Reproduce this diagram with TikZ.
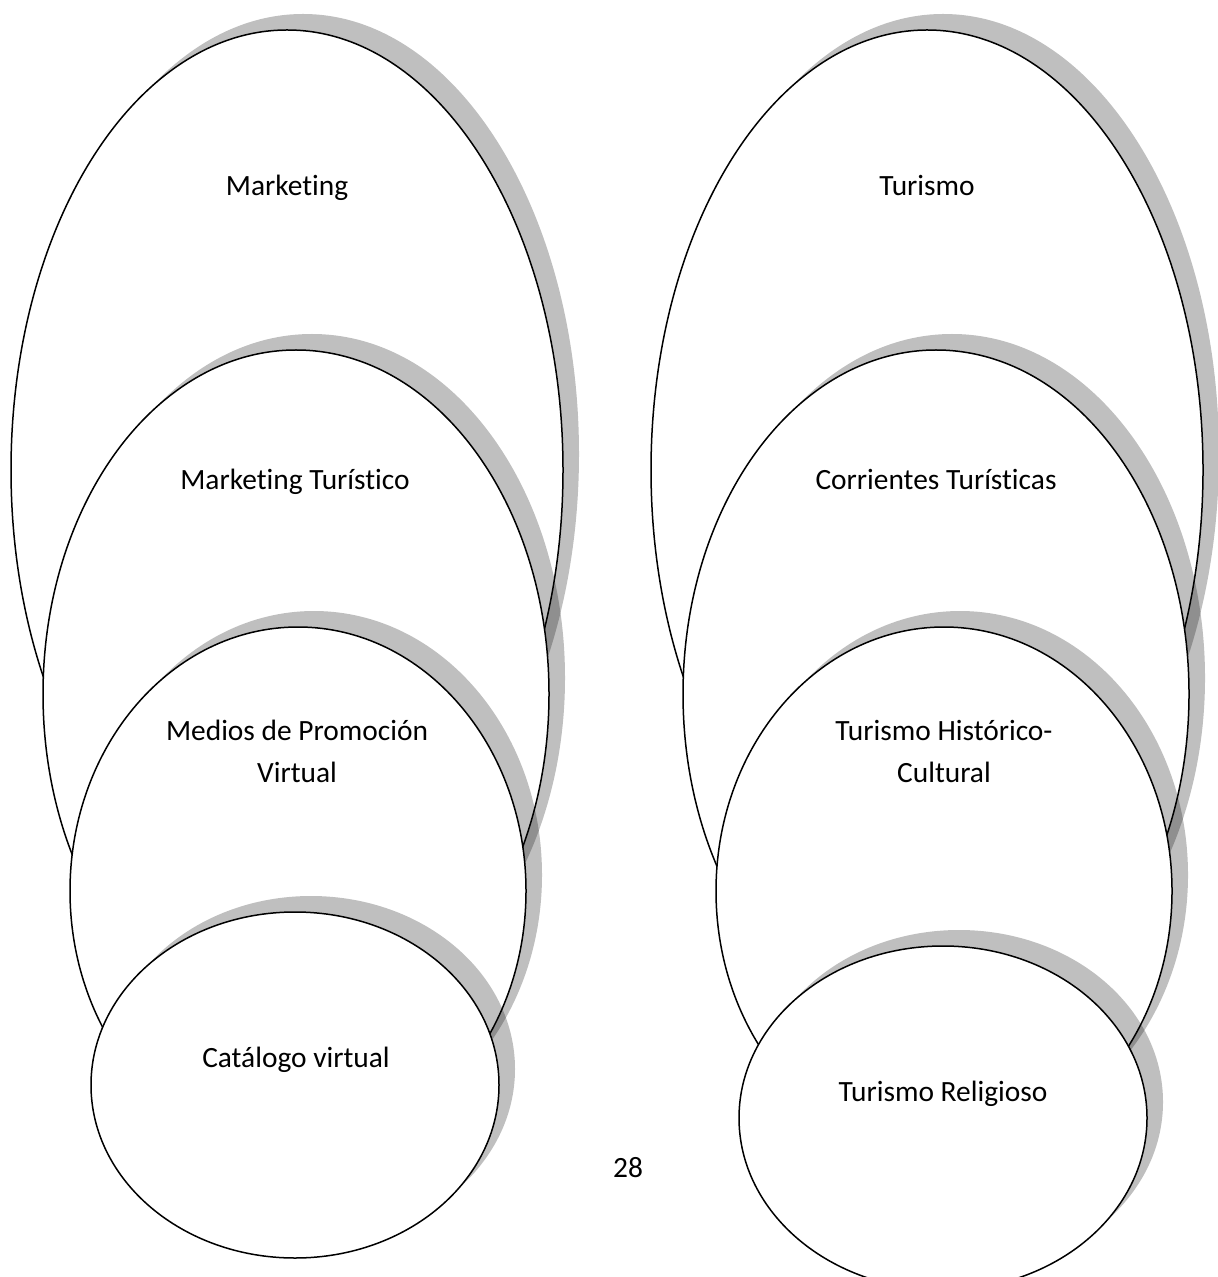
\documentclass[tikz,border=0pt]{standalone}
\usepackage{fontspec}
\setmainfont{Carlito}[Ligatures=NoCommon]
\usetikzlibrary{shapes.geometric}
\newcommand{\bubbleshape}[5]{%
  \fill[shadowband] (#2+16,#3-16) ellipse [x radius=#4, y radius=#5];
  \node[bubble, minimum width=#4pt, minimum height=#5pt] (#1) at (#2,#3) {};
}
\begin{document}
\begin{tikzpicture}[x=0.5pt,y=-0.5pt,
  shadowband/.style={fill=black, fill opacity=0.25},
  bubble/.style={ellipse, draw=black, line width=0.75pt, fill=white, inner sep=0pt},
  lbl/.style={anchor=base, font=\fontsize{14.7}{21}\selectfont, inner sep=0pt, align=center}]
\useasboundingbox (0,0) rectangle (1218,1277);
% left column
\bubbleshape{e1}{287}{470}{276}{440}
\node[lbl] (t1) at (287,196) {Marketing};
\bubbleshape{e2}{296}{694}{253}{344}
\node[lbl] (t2) at (295,489) {Marketing Turístico};
\bubbleshape{e3}{298}{891}{228}{264}
\node[lbl] (t3) at (297,782) {Medios de Promoción\\Virtual};
\bubbleshape{e4}{295}{1085}{204}{173}
\node[lbl] (t4) at (296,1067) {Catálogo virtual};
% right column
\bubbleshape{f1}{927}{470}{276}{440}
\node[lbl] (s1) at (927,196) {Turismo};
\bubbleshape{f2}{936}{694}{253}{344}
\node[lbl] (s2) at (936,489) {Corrientes Turísticas};
\bubbleshape{f3}{944}{891}{228}{264}
\node[lbl] (s3) at (944,782) {Turismo Histórico-\\Cultural};
\bubbleshape{f4}{943}{1118}{204}{172}
\node[lbl] (s4) at (943,1101) {Turismo Religioso};
% page number
\node[lbl] (pg) at (628,1177) {28};
\end{tikzpicture}
\end{document}
